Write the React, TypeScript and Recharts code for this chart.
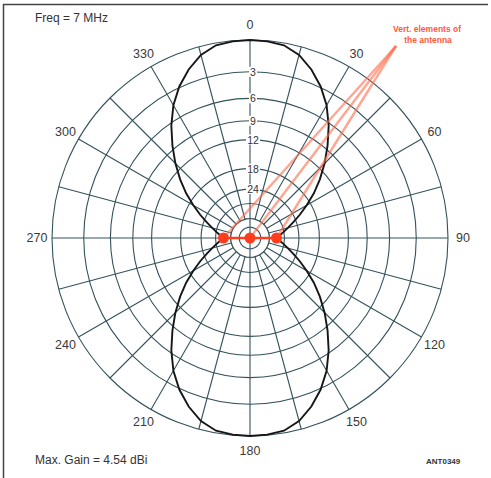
import React from 'react';
import { RadarChart, Radar, PolarGrid, PolarAngleAxis, PolarRadiusAxis } from 'recharts';

// Bearings (degrees, compass, clockwise from top) at which the pattern was read
const bearings = [
  0, 5, 10, 15, 20, 25, 30, 35, 40, 45, 50, 55, 60, 65, 70, 75, 80, 85,
  90, 95, 100, 105, 110, 115, 120, 125, 130, 135, 140, 145, 150, 155, 160, 165, 170, 175,
  180, 185, 190, 195, 200, 205, 210, 215, 220, 225, 230, 235, 240, 245, 250, 255, 260, 265,
  270, 275, 280, 285, 290, 295, 300, 305, 310, 315, 320, 325, 330, 335, 340, 345, 350, 355,
];

// Relative gain (dB) at each bearing
const gainDb = [
  0, -0.05, -0.2, -0.75, -1.7, -2.9, -4.4, -6.3, -8.5, -10.8, -13.3, -16.0, -19.0, -22.0, -25.0, -27.8, -30.3, -32.6,
  -34.5, -32.6, -30.3, -27.8, -25.0, -22.0, -19.0, -16.0, -13.3, -10.8, -8.5, -6.3, -4.4, -2.9, -1.7, -0.75, -0.2, -0.05,
  0, -0.05, -0.2, -0.75, -1.7, -2.9, -4.4, -6.3, -8.5, -10.8, -13.3, -16.0, -19.0, -22.0, -25.0, -27.8, -30.3, -32.6,
  -34.5, -32.6, -30.3, -27.8, -25.0, -22.0, -19.0, -16.0, -13.3, -10.8, -8.5, -6.3, -4.4, -2.9, -1.7, -0.75, -0.2, -0.05,
];

// Antenna elements (bearing, dB position; null = centre)
const elementBearings = [270, 0, 90];
const elementDb: (number | null)[] = [-34.5, null, -34.5];

// Grid rings (dB) and labelled rings
const ringDb = [0, -3, -6, -9, -12, -18, -24, -30, -40, -50];
const ringLabelDb = [-3, -6, -9, -12, -18, -24];
// Inner core: spokes stop at this ring except the main axes
const coreDb = -40;
const innerRingDb = -50;
const mainAxes = [0, 90, 180, 270];

// Spokes and bearing labels
const spokeBearings = [0, 15, 30, 45, 60, 75, 90, 105, 120, 135, 150, 165, 180, 195, 210, 225, 240, 255, 270, 285, 300, 315, 330, 345];
const bearingLabels = [0, 30, 60, 90, 120, 150, 180, 210, 240, 270, 300, 330];

// ARRL log-periodic scale: each 2 dB step multiplies radius by 0.89
const toRel = (db: number) => Math.pow(0.89, -db / 2);

const rows = bearings.map((b, i) => {
  const ei = elementBearings.indexOf(b);
  let elem = 0;
  if (ei >= 0 && elementDb[ei] !== null) elem = toRel(elementDb[ei] as number);
  return {
    bearing: b,
    r: toRel(gainDb[i]),
    elem,
    core: toRel(coreDb),
    inner: toRel(innerRingDb),
    cross: mainAxes.includes(b) ? toRel(coreDb) : 0,
  };
});

const CX = 250;
const CY = 238;
const OUTER = 198;
const FONT = '"Liberation Sans", Arial, Helvetica, sans-serif';
const GRID = '#34525c';
const ORANGE = '#ff3d1e';
const LEADER_X = 396;
const LEADER_Y = 46;

const AngleTick = (props: any) => {
  const { x, y, payload } = props;
  const v = payload?.value;
  if (!bearingLabels.includes(v)) return <g />;
  const dx = x - CX;
  const dy = y - CY;
  const d = Math.sqrt(dx * dx + dy * dy) || 1;
  const R = 213;
  const tx = CX + (dx / d) * R;
  const ty = CY + (dy / d) * R;
  return (
    <text x={tx} y={ty} textAnchor="middle" dominantBaseline="central" fontSize={12.5} fill="#3a3a3a" fontFamily={FONT}>
      {v}
    </text>
  );
};

const RadiusTick = (props: any) => {
  const { x, y, payload } = props;
  const v = payload?.value;
  const db = ringDb.find((d) => Math.abs(toRel(d) - v) < 1e-6);
  if (db === undefined || !ringLabelDb.includes(db)) return <g />;
  const label = String(-db);
  const w = label.length * 6 + 2;
  return (
    <g>
      <rect x={x + 3 - w / 2} y={y - 5} width={w} height={10} fill="#fff" />
      <text x={x + 3} y={y} textAnchor="middle" dominantBaseline="central" fontSize={10.5} fill="#333" fontFamily={FONT}>
        {label}
      </text>
    </g>
  );
};

const ElementDot = (props: any) => {
  const { cx, cy, index } = props;
  const row = rows[index];
  if (!row || !elementBearings.includes(row.bearing)) return <g key={`e${index}`} />;
  return (
    <g key={`e${index}`}>
      <line x1={cx} y1={cy} x2={LEADER_X} y2={LEADER_Y} stroke="#ff6a4a" strokeOpacity={0.6} strokeWidth={2.4} />
      <circle cx={cx} cy={cy} r={5.5} fill={ORANGE} />
    </g>
  );
};

export default function App() {
  return (
    <div style={{ position: 'absolute', left: 0, top: 0, width: 491, height: 478, background: '#fff' }}>
      <RadarChart
        width={491}
        height={478}
        cx={CX}
        cy={CY}
        outerRadius={OUTER}
        data={rows}
        margin={{ top: 0, right: 0, bottom: 0, left: 0 }}
      >
        <PolarGrid gridType="circle" stroke={GRID} strokeWidth={1.1} />
        <PolarAngleAxis
          dataKey="bearing"
          type="number"
          domain={[0, 360]}
          ticks={spokeBearings}
          tick={AngleTick}
          axisLine={false}
          tickLine={false}
        />
        <PolarRadiusAxis
          angle={90}
          type="number"
          domain={[0, 1]}
          ticks={ringDb.map(toRel)}
          tick={RadiusTick}
          axisLine={false}
          tickLine={false}
        />
        <Radar dataKey="core" stroke={GRID} strokeWidth={1.1} fill="#ffffff" fillOpacity={1} dot={false} isAnimationActive={false} />
        <Radar dataKey="inner" stroke={GRID} strokeWidth={1.1} fill="none" fillOpacity={0} dot={false} isAnimationActive={false} />
        <Radar dataKey="cross" stroke={GRID} strokeWidth={1.1} fill="none" fillOpacity={0} dot={false} isAnimationActive={false} />
        <Radar dataKey="r" stroke="#161616" strokeWidth={1.9} fill="none" fillOpacity={0} dot={false} isAnimationActive={false} />
        <Radar dataKey="elem" stroke={ORANGE} strokeWidth={2.5} fill="none" fillOpacity={0} dot={ElementDot} isAnimationActive={false} />
      </RadarChart>
      <svg width={491} height={478} style={{ position: 'absolute', left: 0, top: 0, pointerEvents: 'none' }}>
        <line x1={3} y1={4.5} x2={488} y2={4.5} stroke="#444" strokeWidth={1.5} />
        <line x1={3.5} y1={4} x2={3.5} y2={478} stroke="#444" strokeWidth={1.5} />
        <text x={35} y={22} fontSize={12} fill="#333" fontFamily={FONT}>Freq = 7 MHz</text>
        <text x={35} y={464} fontSize={12} fill="#333" fontFamily={FONT}>Max. Gain = 4.54 dBi</text>
        <text x={426} y={464} fontSize={8} fontWeight="bold" fill="#333" fontFamily={FONT}>ANT0349</text>
        <text x={427} y={32} textAnchor="middle" fontSize={8.5} fontWeight="bold" fill="#ff5a3a" fontFamily={FONT}>Vert. elements of</text>
        <text x={428} y={43} textAnchor="middle" fontSize={8.5} fontWeight="bold" fill="#ff5a3a" fontFamily={FONT}>the antenna</text>
      </svg>
    </div>
  );
}
